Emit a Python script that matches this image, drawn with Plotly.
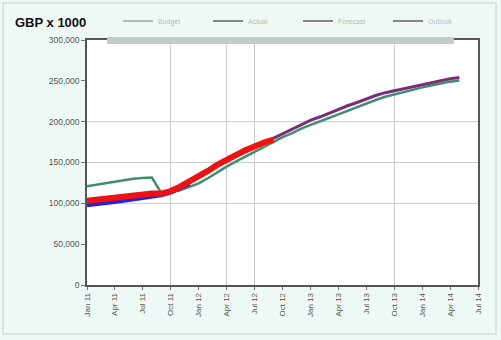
import plotly.graph_objects as go
import pandas as pd

# ---- data (GBP x 1000) ----
months_all = pd.date_range("2011-01-01", "2014-05-01", freq="MS")

green_vals = [121, 123, 125, 127, 128.5, 130, 131, 131.5, 112.5, 113.5, 116, 120,
              124.5, 131, 138, 145, 151, 157, 163, 169, 175.5, 181, 186, 191.5,
              196, 200, 204.5, 209, 213.5, 218, 222.5, 226.5, 230.5, 233.5, 236.5, 239.5,
              242, 244.5, 247, 249, 250.5]
blue_months = pd.date_range("2011-01-01", "2011-12-01", freq="MS")
blue_vals = [98, 99, 100.5, 102, 103.5, 105, 106.5, 108, 110, 113.5, 118.5, 124]
red_months = pd.date_range("2011-01-01", "2012-09-01", freq="MS")
red_vals = [103, 104.5, 106, 107.5, 109, 110.5, 111.5, 112, 112, 115, 120.5, 126.5,
            133, 140, 147, 154, 159, 165, 170.5, 174.5, 178]
purple_months = pd.date_range("2011-10-01", "2014-05-01", freq="MS")
purple_vals = [114.5, 119, 125, 131.5, 138.5, 145.5, 152, 157.5, 163, 168.5, 173.5, 179,
               185, 190.5, 196.5, 202, 206, 210.5, 215, 219.5, 223.5, 228, 232, 235.5,
               238, 240.5, 243, 245.5, 248, 250.5, 252.5, 254]

series_names = ["Budget", "Actual", "Forecast", "Outlook"]
vgrid_dates = ["2011-10-01", "2012-04-01", "2012-07-01", "2013-10-01"]
hgrid_vals = [100000, 150000, 200000]

def k(v):
    return [x * 1000 for x in v]

fig = go.Figure()
fig.add_trace(go.Scatter(x=months_all, y=k(green_vals), mode="lines",
                         line=dict(color="#3f8e70", width=2.5), showlegend=False))
fig.add_trace(go.Scatter(x=blue_months, y=k(blue_vals), mode="lines",
                         line=dict(color="#2a22d0", width=4.5), showlegend=False))
fig.add_trace(go.Scatter(x=purple_months, y=k(purple_vals), mode="lines",
                         line=dict(color="#7a2e78", width=3), showlegend=False))
fig.add_trace(go.Scatter(x=red_months, y=k(red_vals), mode="lines",
                         line=dict(color="#f01212", width=6), showlegend=False))

# legend entries (thin lines)
leg_colors = ["#9aa6a2", "#5d6663", "#6a5e62", "#6d5f6a"]
for name, c in zip(series_names, leg_colors):
    fig.add_trace(go.Scatter(x=[None], y=[None], mode="lines", name=name,
                             line=dict(color=c, width=1.5)))

shapes = []
for d in vgrid_dates:
    shapes.append(dict(type="line", xref="x", yref="paper", x0=d, x1=d, y0=0, y1=1,
                       line=dict(color="#c9c9c9", width=1), layer="below"))
for v in hgrid_vals:
    shapes.append(dict(type="line", xref="paper", yref="y", x0=0, x1=1, y0=v, y1=v,
                       line=dict(color="#c9c9c9", width=1), layer="below"))
# grey bar over the top border
shapes.append(dict(type="rect", xref="paper", yref="paper",
                   x0=(107 - 87) / 391, x1=(454 - 87) / 391,
                   y0=(285 - 44) / 245, y1=(285 - 37) / 245,
                   fillcolor="#c3cbc8", line=dict(width=0), layer="above"))
# outer faint frame
shapes.append(dict(type="rect", xref="paper", yref="paper",
                   x0=(3 - 87) / 391, x1=(496 - 87) / 391,
                   y0=(285 - 334) / 245, y1=(285 - 3) / 245,
                   line=dict(color="#d5dcda", width=1.5), fillcolor="rgba(0,0,0,0)",
                   layer="below"))

fig.update_layout(
    width=501, height=340,
    margin=dict(l=87, r=23, t=40, b=55, autoexpand=False),
    paper_bgcolor="#eef9f6",
    plot_bgcolor="#ffffff",
    font=dict(family="Liberation Sans, Arial, sans-serif", color="#555555"),
    shapes=shapes,
    showlegend=True,
    legend=dict(orientation="h", x=(118 - 87) / 391, xanchor="left",
                y=(285 - 21) / 245, yanchor="middle",
                font=dict(size=7, color="#b5bbb9"), bgcolor="rgba(0,0,0,0)",
                itemwidth=30, entrywidth=45, entrywidthmode="pixels",
                tracegroupgap=0),
    annotations=[dict(text="<b>GBP x 1000</b>", xref="paper", yref="paper",
                      x=(13 - 87) / 391, xanchor="left", y=(285 - 22) / 245,
                      yanchor="middle", showarrow=False,
                      font=dict(size=13, color="#111111",
                                family="Liberation Sans, Arial, sans-serif"))],
)
fig.update_xaxes(
    type="date", range=["2011-01-01", "2014-07-01"],
    tick0="2011-01-01", dtick="M3", tickformat="%b %y", tickangle=-90,
    showgrid=False, zeroline=False, automargin=False,
    showline=True, linecolor="#555555", linewidth=1.5, mirror=True,
    ticks="outside", ticklen=3, tickcolor="#777777",
    tickfont=dict(size=8, color="#555555"),
)
fig.update_yaxes(
    range=[0, 300000], dtick=50000, tickformat=",",
    showgrid=False, zeroline=False, automargin=False,
    showline=True, linecolor="#555555", linewidth=1.5, mirror=True,
    ticks="outside", ticklen=4, tickcolor="#777777",
    tickfont=dict(size=8.5, color="#555555"),
)

fig.write_html("out.html", config={"displayModeBar": False},
               post_script="document.body.style.margin='0';document.body.style.padding='0';")
